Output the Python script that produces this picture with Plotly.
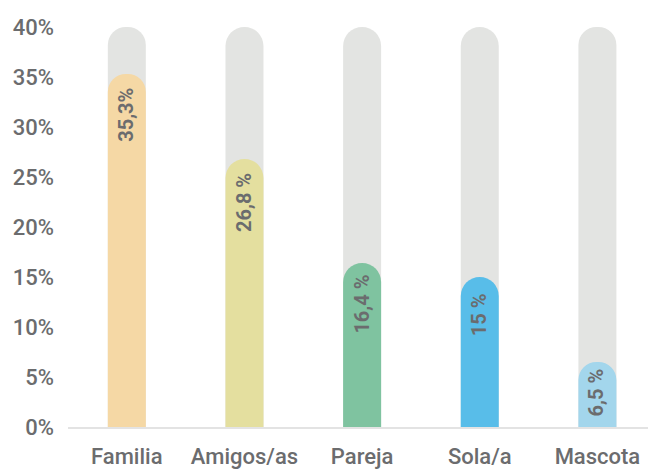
import plotly.graph_objects as go

categories = ["Familia", "Amigos/as", "Pareja", "Sola/a", "Mascota"]
values = [35.3, 26.8, 16.4, 15.0, 6.5]
labels = ["35,3%", "26,8 %", "16,4 %", "15 %", "6,5 %"]
background = [40, 40, 40, 40, 40]
colors = ["#f5d8a5", "#e4df9f", "#7fc3a0", "#58bde9", "#a3d6ec"]
y_ticks = [0, 5, 10, 15, 20, 25, 30, 35, 40]
y_tick_text = ["0%", "5%", "10%", "15%", "20%", "25%", "30%", "35%", "40%"]

txt = "#6b6c6e"
font = "Roboto, Arial, sans-serif"
bw = 0.323
label_shift = [-13, -13, -11, -15, -5]

fig = go.Figure()
fig.add_trace(go.Bar(
    x=categories, y=background, width=bw,
    marker=dict(color="#e3e4e2", cornerradius="50%", line=dict(width=0)),
    hoverinfo="skip", showlegend=False, cliponaxis=False,
    xaxis="x",
))
fig.add_trace(go.Bar(
    x=categories, y=values, width=bw,
    marker=dict(color=colors, cornerradius="50%", line=dict(width=0)),
    showlegend=False, cliponaxis=False,
    xaxis="x2",
))

for c, v, t, s in zip(categories, values, labels, label_shift):
    fig.add_annotation(
        x=c, y=v, xref="x", yref="y", text=t, showarrow=False,
        textangle=-90, yanchor="top", xanchor="center", yshift=s, xshift=-1,
        borderpad=0, font=dict(family=font, size=20, color=txt, weight="bold"),
    )

fig.update_layout(
    width=648, height=470,
    margin=dict(l=68, r=0, t=26.5, b=42.5),
    barmode="overlay",
    plot_bgcolor="white", paper_bgcolor="white",
    font=dict(family=font, color=txt, size=22),
    xaxis=dict(
        range=[-0.5, 4.43], showgrid=False, zeroline=False,
        showline=True, linecolor="#e3e3e3", linewidth=1.5,
        ticks="", tickfont=dict(family=font, size=22, color=txt, weight=500),
        ticklabelstandoff=9,
    ),
    xaxis2=dict(
        range=[-0.5, 4.43], overlaying="x", matches="x", visible=False,
    ),
    yaxis=dict(
        range=[0, 40], tickvals=y_ticks, ticktext=y_tick_text,
        showgrid=False, zeroline=False, showline=False, ticks="",
        tickfont=dict(family=font, size=22, color=txt, weight=500),
        ticklabelstandoff=13,
    ),
)

fig.write_html(
    "out.html",
    config={"displayModeBar": False},
    post_script="document.body.style.margin='0';document.body.style.overflow='hidden';",
)
